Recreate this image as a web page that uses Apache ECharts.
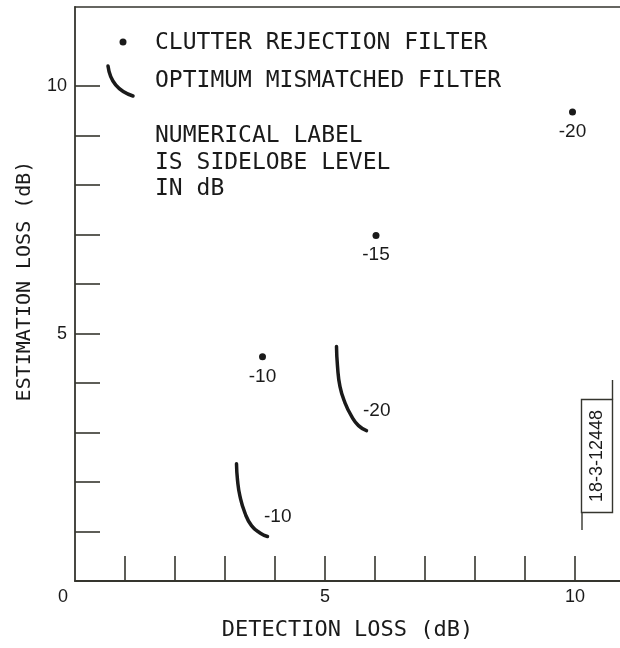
<!DOCTYPE html>
<html>
<head>
<meta charset="utf-8">
<script src="https://cdn.jsdelivr.net/npm/echarts@6/dist/echarts.min.js"></script>
<style>
  html, body { margin: 0; padding: 0; background: #fff; }
  #loss_chart { width: 620px; height: 648px; }
</style>
</head>
<body>
<div id="loss_chart"></div>
<script>
// clutter rejection filter points (detection loss, estimation loss, sidelobe level)
const clutterX = [3.75, 6.02, 9.95];
const clutterY = [4.53, 6.98, 9.48];
const clutterLevel = [-10, -15, -20];

// optimum mismatched filter curves
const mismatch20X = [5.23, 5.25, 5.30, 5.40, 5.53, 5.67, 5.83];
const mismatch20Y = [4.74, 4.34, 3.93, 3.60, 3.33, 3.14, 3.04];
const mismatch10X = [3.23, 3.25, 3.30, 3.40, 3.53, 3.70, 3.85];
const mismatch10Y = [2.37, 2.04, 1.71, 1.37, 1.12, 0.97, 0.90];
const mismatchLevel = [-20, -10];

// ticks and labels
const xTicks = [1, 2, 3, 4, 5, 6, 7, 8, 9, 10];
const yTicks = [1, 2, 3, 4, 5, 6, 7, 8, 9, 10];
const xLabels = [0, 5, 10];
const yLabels = [5, 10];

const seriesNames = ["CLUTTER REJECTION FILTER", "OPTIMUM MISMATCHED FILTER"];
const noteLines = ["NUMERICAL LABEL", "IS SIDELOBE LEVEL", "IN dB"];

const ink = "#1a1a1a";
const axisInk = "#35352e";
const mono = '"DejaVu Sans Mono", monospace';
const sans = '"Liberation Sans", Arial, sans-serif';

var chart = echarts.init(document.getElementById("loss_chart"));

// build curve data, label only the last point
function curveData(xs, ys, level) {
  return xs.map((x, i) => {
    if (i === xs.length - 1) {
      return {
        value: [x, ys[i]],
        label: {
          show: true,
          position: "right",
          offset: [-9, -20],
          formatter: String(level),
        },
      };
    }
    return [x, ys[i]];
  });
}

let clutterData = clutterX.map((x, i) => [x, clutterY[i], clutterLevel[i]]);

let option = {
  animation: false,
  grid: {
    left: 75,
    right: 0,
    top: 7,
    bottom: 67,
  },
  xAxis: [
    {
      type: "value",
      min: 0,
      max: 10.9,
      name: "DETECTION LOSS (dB)",
      nameLocation: "middle",
      nameGap: 38,
      nameTextStyle: {
        fontFamily: mono,
        fontSize: 22,
        color: ink,
      },
      splitLine: { show: false },
      axisLine: {
        show: true,
        onZero: false,
        lineStyle: { color: axisInk, width: 1.8 },
      },
      axisTick: {
        show: true,
        inside: true,
        length: 25,
        customValues: xTicks,
        lineStyle: { color: axisInk, width: 1.6 },
      },
      axisLabel: {
        customValues: xLabels,
        margin: 7,
        color: ink,
        fontFamily: sans,
        fontSize: 18,
        formatter: (v) => (v === 0 ? "{z|0}" : String(v)),
        rich: {
          z: {
            padding: [0, 24, 0, 0],
            fontFamily: sans,
            fontSize: 18,
            color: ink,
          },
        },
      },
    },
    {
      type: "value",
      position: "top",
      min: 0,
      max: 10.9,
      splitLine: { show: false },
      axisLine: {
        show: true,
        onZero: false,
        lineStyle: { color: axisInk, width: 1.6 },
      },
      axisTick: { show: false },
      axisLabel: { show: false },
    },
  ],
  yAxis: {
    type: "value",
    min: 0,
    max: 11.6,
    name: "ESTIMATION LOSS (dB)",
    nameLocation: "middle",
    nameGap: 40,
    nameTextStyle: {
      fontFamily: mono,
      fontSize: 20,
      color: ink,
      padding: [0, 0, 0, 26],
    },
    splitLine: { show: false },
    axisLine: {
      show: true,
      onZero: false,
      lineStyle: { color: axisInk, width: 1.8 },
    },
    axisTick: {
      show: true,
      inside: true,
      length: 25,
      customValues: yTicks,
      lineStyle: { color: axisInk, width: 1.6 },
    },
    axisLabel: {
      customValues: yLabels,
      margin: 8,
      color: ink,
      fontFamily: sans,
      fontSize: 18,
    },
  },
  series: [
    {
      name: seriesNames[0],
      type: "scatter",
      symbol: "circle",
      symbolSize: 7,
      itemStyle: { color: ink, opacity: 1 },
      data: clutterData,
      silent: true,
      label: {
        show: true,
        position: "bottom",
        distance: 7,
        lineHeight: 18,
        color: ink,
        opacity: 1,
        fontFamily: sans,
        fontSize: 19,
        formatter: (p) => String(p.value[2]),
      },
    },
    {
      name: seriesNames[1],
      type: "line",
      smooth: true,
      symbol: "circle",
      symbolSize: 1,
      showSymbol: true,
      silent: true,
      itemStyle: { color: ink },
      lineStyle: { color: ink, width: 3.5, cap: "round" },
      label: {
        show: false,
        color: ink,
        fontFamily: sans,
        fontSize: 19,
      },
      data: curveData(mismatch20X, mismatch20Y, mismatchLevel[0]),
    },
    {
      name: seriesNames[1],
      type: "line",
      smooth: true,
      symbol: "circle",
      symbolSize: 1,
      showSymbol: true,
      silent: true,
      itemStyle: { color: ink },
      lineStyle: { color: ink, width: 3.5, cap: "round" },
      label: {
        show: false,
        color: ink,
        fontFamily: sans,
        fontSize: 19,
      },
      data: curveData(mismatch10X, mismatch10Y, mismatchLevel[1]),
    },
  ],
  graphic: [
    // legend: dot
    {
      type: "circle",
      shape: { cx: 123, cy: 42, r: 3.5 },
      style: { fill: ink },
      silent: true,
    },
    {
      type: "text",
      x: 155,
      y: 43,
      style: {
        text: seriesNames[0],
        font: "23px " + mono,
        fill: ink,
        verticalAlign: "middle",
        textVerticalAlign: "middle",
      },
      silent: true,
    },
    // legend: curve
    {
      type: "bezierCurve",
      shape: { x1: 108, y1: 66, x2: 133, y2: 96, cpx1: 111, cpy1: 89 },
      style: { stroke: ink, lineWidth: 3.5, fill: null, lineCap: "round" },
      silent: true,
    },
    {
      type: "text",
      x: 155,
      y: 81,
      style: {
        text: seriesNames[1],
        font: "23px " + mono,
        fill: ink,
        verticalAlign: "middle",
        textVerticalAlign: "middle",
      },
      silent: true,
    },
    {
      type: "text",
      style: {
        text: noteLines.join("\n"),
        font: "23px " + mono,
        lineHeight: 26.5,
        fill: ink,
        verticalAlign: "top",
        textVerticalAlign: "top",
      },
      silent: true,
      top: 123,
      left: 155,
    },
    // figure number box
    {
      type: "rect",
      shape: { x: 581.5, y: 399.5, width: 31, height: 113 },
      style: { stroke: axisInk, lineWidth: 1.4, fill: "#fff" },
      silent: true,
    },
    {
      type: "line",
      shape: { x1: 612.5, y1: 380, x2: 612.5, y2: 399.5 },
      style: { stroke: axisInk, lineWidth: 1.4 },
      silent: true,
    },
    {
      type: "line",
      shape: { x1: 582, y1: 512.5, x2: 582, y2: 530 },
      style: { stroke: axisInk, lineWidth: 1.4 },
      silent: true,
    },
    {
      type: "text",
      x: 597,
      y: 456,
      rotation: Math.PI / 2,
      style: {
        text: "18-3-12448",
        font: "18px " + sans,
        fill: ink,
        align: "center",
        textAlign: "center",
        verticalAlign: "middle",
        textVerticalAlign: "middle",
      },
      silent: true,
    },
  ],
};
chart.setOption(option, true);
</script>
</body>
</html>
